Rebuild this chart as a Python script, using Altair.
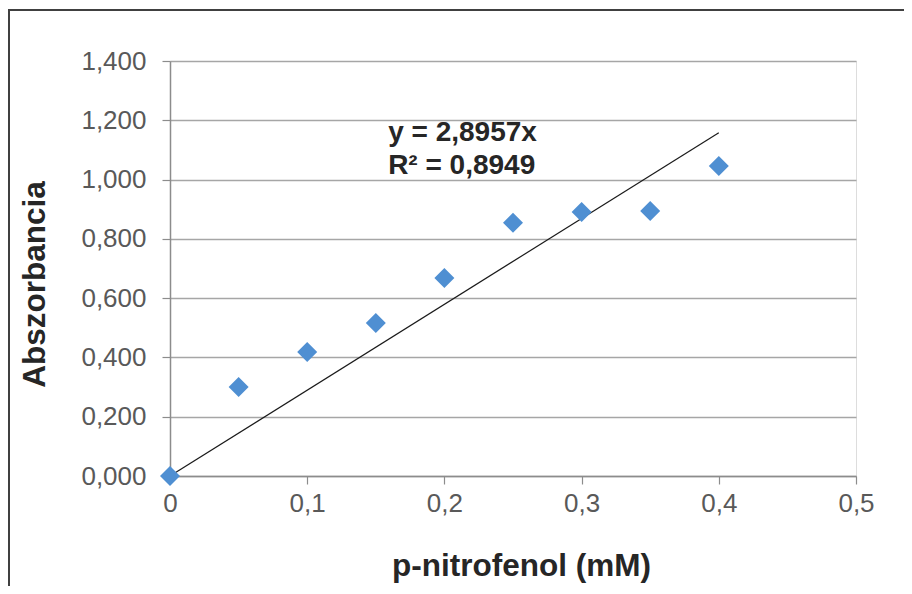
import altair as alt
import pandas as pd

# data
conc = [0.0, 0.05, 0.10, 0.15, 0.20, 0.25, 0.30, 0.35, 0.40]
absorb = [0.000, 0.300, 0.418, 0.516, 0.668, 0.854, 0.891, 0.894, 1.046]
slope = 2.8957
r2_text = "R² = 0,8949"
eq_text = "y = 2,8957x"
x_ticks = [0, 0.1, 0.2, 0.3, 0.4, 0.5]
y_ticks = [0, 0.2, 0.4, 0.6, 0.8, 1.0, 1.2, 1.4]

pts = pd.DataFrame({"x": conc, "y": absorb})
trend = pd.DataFrame({"x": [0.0, 0.4], "y": [0.0, slope * 0.4]})
ann = pd.DataFrame({"x": [0.159, 0.159], "y": [1.157, 1.046], "t": [eq_text, r2_text]})

FONT = "Liberation Sans"
W, H = 686, 415

xs = alt.Scale(domain=[0, 0.5], nice=False, zero=False)
ys = alt.Scale(domain=[0, 1.4], nice=False, zero=False)

xax = alt.Axis(
    values=x_ticks,
    labelExpr="datum.value == 0 ? '0' : replace(format(datum.value, '.1f'), '.', ',')",
    labelFlush=False,
    grid=False, domainColor="#8c8c8c", domainWidth=1.5,
    tickColor="#8c8c8c", tickSize=8, tickWidth=1.2,
    labelFont=FONT, labelFontSize=26, labelColor="#595959", labelPadding=6,
    title="p-nitrofenol (mM)", titleFont=FONT, titleFontSize=31.5, titleFontWeight="bold",
    titleColor="#262626", titleX=351, titleY=90, titleBaseline="middle", titleAnchor=None,
)
yax = alt.Axis(
    values=y_ticks,
    labelExpr="replace(format(datum.value, '.3f'), '.', ',')",
    labelFlush=False,
    grid=True, gridColor="#a6a6a6", gridWidth=1.5,
    domainColor="#8c8c8c", domainWidth=1.5,
    tickColor="#8c8c8c", tickSize=8, tickWidth=1.2,
    labelFont=FONT, labelFontSize=26, labelColor="#595959", labelPadding=16,
    title="Abszorbancia", titleFont=FONT, titleFontSize=31.5, titleFontWeight="bold",
    titleColor="#262626", titleX=-135, titleY=223, titleAngle=-90,
    titleBaseline="middle", titleAlign="center",
)

base = alt.Chart(pts).mark_point(
    shape="diamond", filled=True, size=400, color="#4f8fd2", opacity=1
).encode(
    x=alt.X("x:Q", scale=xs, axis=xax),
    y=alt.Y("y:Q", scale=ys, axis=yax),
)

line = alt.Chart(trend).mark_line(color="#1a1a1a", strokeWidth=1.2).encode(
    x=alt.X("x:Q", scale=xs), y=alt.Y("y:Q", scale=ys)
)

text = alt.Chart(ann).mark_text(
    font=FONT, fontSize=28, fontWeight="bold", color="#262626",
    align="left", baseline="middle"
).encode(x=alt.X("x:Q", scale=xs), y=alt.Y("y:Q", scale=ys), text="t:N")

frame_top = alt.Chart(pts).mark_rule(color="#404040", strokeWidth=1.5).encode(
    x=alt.value(-162), x2=alt.value(W + 48), y=alt.value(-51)
)
frame_left = alt.Chart(pts).mark_rule(color="#404040", strokeWidth=1.5).encode(
    x=alt.value(-161), y=alt.value(-51), y2=alt.value(H + 110)
)

chart = alt.layer(line, base, text, frame_top, frame_left).properties(
    width=W, height=H,
    autosize=alt.AutoSizeParams(type="none"),
    padding={"left": 162, "top": 53, "right": 48, "bottom": 110},
).configure_view(stroke=None).configure(background="white")

chart.save("out.html", embed_options={"renderer": "svg", "actions": False})
